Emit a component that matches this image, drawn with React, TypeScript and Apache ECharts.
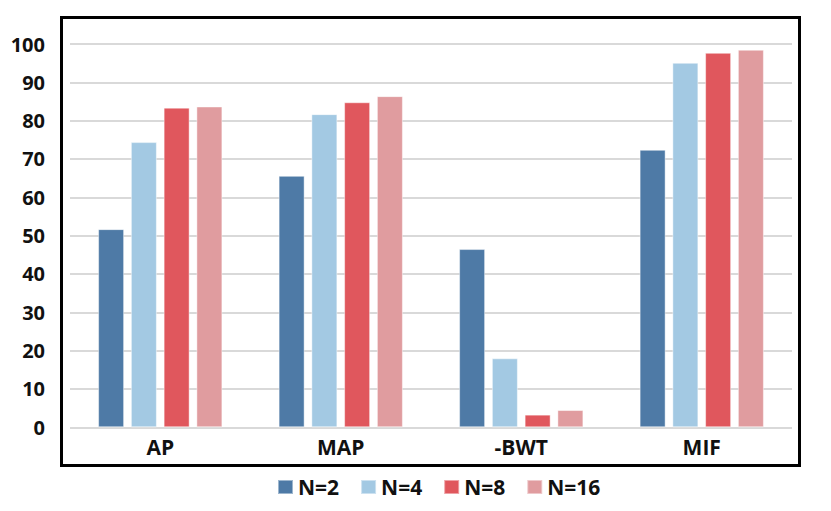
import React, { useEffect, useRef } from "react";
import * as echarts from "echarts";

const categories = ["AP", "MAP", "-BWT", "MIF"];
const seriesNames = ["N=2", "N=4", "N=8", "N=16"];
const n2 = [51.7, 65.6, 46.5, 72.4];
const n4 = [74.4, 81.7, 18.0, 95.1];
const n8 = [83.4, 84.8, 3.3, 97.7];
const n16 = [83.7, 86.4, 4.5, 98.5];
const colors = ["#4E7AA6", "#A3C9E3", "#E0575D", "#E09C9F"];

export default function App() {
  const ref = useRef<HTMLDivElement>(null);
  useEffect(() => {
    if (!ref.current) return;
    const chart = echarts.init(ref.current, undefined, { renderer: "svg" });
    const values = [n2, n4, n8, n16];
    const font = "'Open Sans', Lato, sans-serif";
    chart.setOption({
      animation: false,
      backgroundColor: "#ffffff",
      grid: { left: 70, right: 39, top: 44, bottom: 83.7 },
      legend: {
        data: seriesNames,
        left: 277,
        top: 476.5,
        padding: 0,
        itemWidth: 15,
        itemHeight: 14,
        itemGap: 21,
        icon: "rect",
        textStyle: { fontFamily: font, fontWeight: "bold", fontSize: 21, color: "#111" },
      },
      xAxis: {
        type: "category",
        data: categories,
        axisLine: { show: false },
        axisTick: { show: false },
        axisLabel: { fontFamily: font, fontWeight: "bold", fontSize: 21, color: "#111", margin: 9 },
      },
      yAxis: {
        type: "value",
        min: 0,
        max: 100,
        interval: 10,
        axisLine: { show: false },
        axisTick: { show: false },
        axisLabel: { fontFamily: font, fontWeight: "bold", fontSize: 20, color: "#111", margin: 25 },
        splitLine: { lineStyle: { color: "#d9d9d9", width: 2 } },
      },
      series: seriesNames.map((name, i) => ({
        name,
        type: "bar",
        data: values[i],
        barWidth: 26,
        barGap: "26%",
        itemStyle: { color: colors[i], borderColor: "rgba(255,255,255,0.45)", borderWidth: 1 },
      })),
      graphic: [
        {
          type: "rect",
          shape: { x: 61.5, y: 17.5, width: 738, height: 448 },
          style: { fill: "none", stroke: "#000", lineWidth: 3 },
          z: 100,
        },
      ],
    });
    return () => chart.dispose();
  }, []);
  return (
    <div
      ref={ref}
      style={{ position: "fixed", left: 0, top: 0, width: 831, height: 511 }}
    />
  );
}
